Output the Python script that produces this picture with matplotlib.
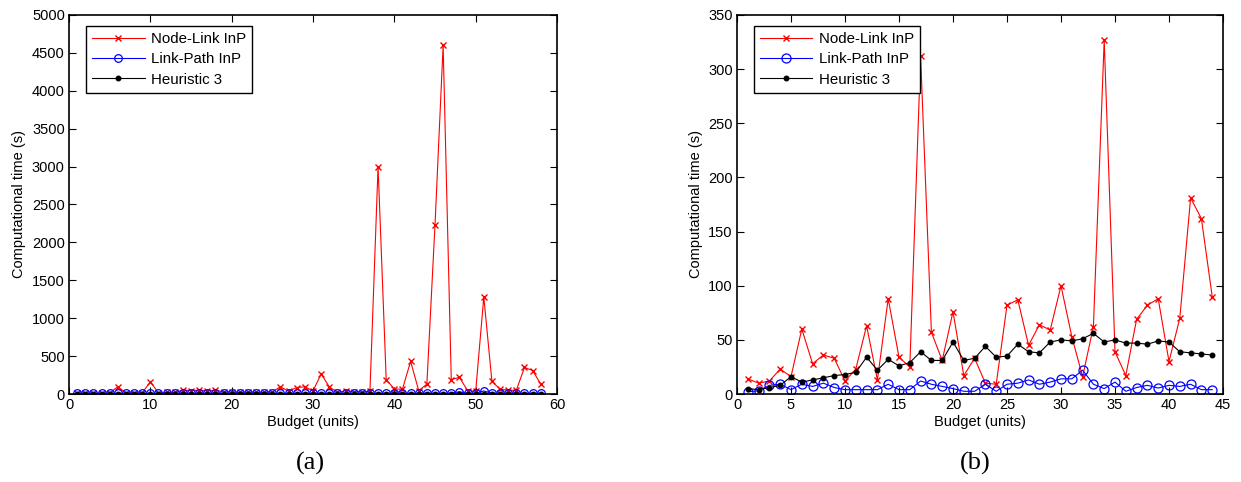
import numpy as np
import matplotlib.pyplot as plt

plt.rcParams['font.family'] = ['Liberation Sans', 'DejaVu Sans']

# (a) budgets 1..58
budget_a = np.arange(1, 59)
node_link_a = [10, 10, 10, 10, 15, 95, 15, 15, 15, 160,
               15, 20, 20, 50, 45, 50, 40, 50, 30, 25,
               20, 25, 20, 20, 30, 95, 35, 85, 95, 40,
               265, 95, 20, 45, 30, 30, 35, 3000, 190, 65,
               65, 430, 45, 130, 2230, 4600, 190, 220, 45, 35,
               1280, 165, 65, 50, 50, 350, 310, 130]
link_path_a = [10] * 47 + [30, 10, 10, 40] + [10] * 7
heuristic_a = [3] * 58

# (b) budgets 1..44
budget_b = np.arange(1, 45)
node_link_b = [14, 10, 12, 23, 16, 60, 28, 36, 33, 12,
               23, 63, 13, 88, 34, 25, 312, 57, 31, 76,
               17, 33, 10, 9, 82, 87, 45, 64, 59, 100,
               53, 16, 62, 327, 39, 17, 69, 82, 88, 30,
               70, 181, 162, 90]
link_path_b = [2, 3, 8, 9, 4, 9, 7, 10, 6, 4,
               4, 4, 4, 9, 4, 4, 12, 9, 7, 5,
               2.5, 2.5, 9, 2.5, 9, 10, 13, 9, 11, 14,
               14, 22, 9, 5, 11, 2.5, 6, 8, 5.5, 8,
               7, 9, 4, 4]
heuristic_b = [5, 4, 6, 8, 16, 11, 13, 15, 17, 18,
               20, 34, 22, 32, 26, 29, 39, 31, 31, 48,
               31, 33, 44, 34, 35, 46, 39, 38, 48, 50,
               49, 51, 56, 48, 50, 47, 47, 46, 49, 48,
               39, 38, 37, 36]

labels = ['Node-Link InP', 'Link-Path InP', 'Heuristic 3']

W, H = 1241, 482
fig = plt.figure(figsize=(W / 100, H / 100), dpi=100)
ax_a = fig.add_axes([69 / W, 88 / H, 488 / W, 379 / H])
ax_b = fig.add_axes([737 / W, 88 / H, 486 / W, 379 / H])


def draw(ax, x, nl, lp, he, msize, xlim, xticks, ylim, yticks):
    ax.plot(x, nl, color='red', lw=0.8, marker='x', ms=4.5, mew=1.0, label=labels[0])
    ax.plot(x, lp, color='blue', lw=0.8, marker='o', ms=msize, mfc='none',
            mew=0.9, label=labels[1])
    ax.plot(x, he, color='black', lw=0.8, marker='.', ms=6.5, label=labels[2])
    ax.set_xlim(*xlim)
    ax.set_ylim(*ylim)
    ax.set_xticks(xticks)
    ax.set_yticks(yticks)
    ax.tick_params(direction='in', length=5, width=0.8, top=True, right=True,
                   labelsize=10.5, pad=3)
    for s in ax.spines.values():
        s.set_linewidth(1.2)
    ax.set_xlabel('Budget (units)', fontsize=10.5, labelpad=2)
    ax.set_ylabel('Computational time (s)', fontsize=10.5, labelpad=4)
    leg = ax.legend(loc='upper left', bbox_to_anchor=(17 / 488, 1 - 11 / 379),
                    borderaxespad=0, fancybox=False, edgecolor='black',
                    framealpha=1, numpoints=1, handlelength=3.5,
                    handletextpad=0.45, fontsize=10.8, borderpad=0.4,
                    labelspacing=0.42)
    leg.get_frame().set_linewidth(1.0)


draw(ax_a, budget_a, node_link_a, link_path_a, heuristic_a, 5.5,
     (0, 60), np.arange(0, 61, 10), (0, 5000), np.arange(0, 5001, 500))
draw(ax_b, budget_b, node_link_b, link_path_b, heuristic_b, 6.5,
     (0, 45), np.arange(0, 46, 5), (0, 350), np.arange(0, 351, 50))

fig.text(310 / W, 1 - 463 / H, '(a)', family='Liberation Serif', fontsize=19,
         ha='center', va='center')
fig.text(975 / W, 1 - 463 / H, '(b)', family='Liberation Serif', fontsize=19,
         ha='center', va='center')

fig.savefig('out.png', dpi=100)
